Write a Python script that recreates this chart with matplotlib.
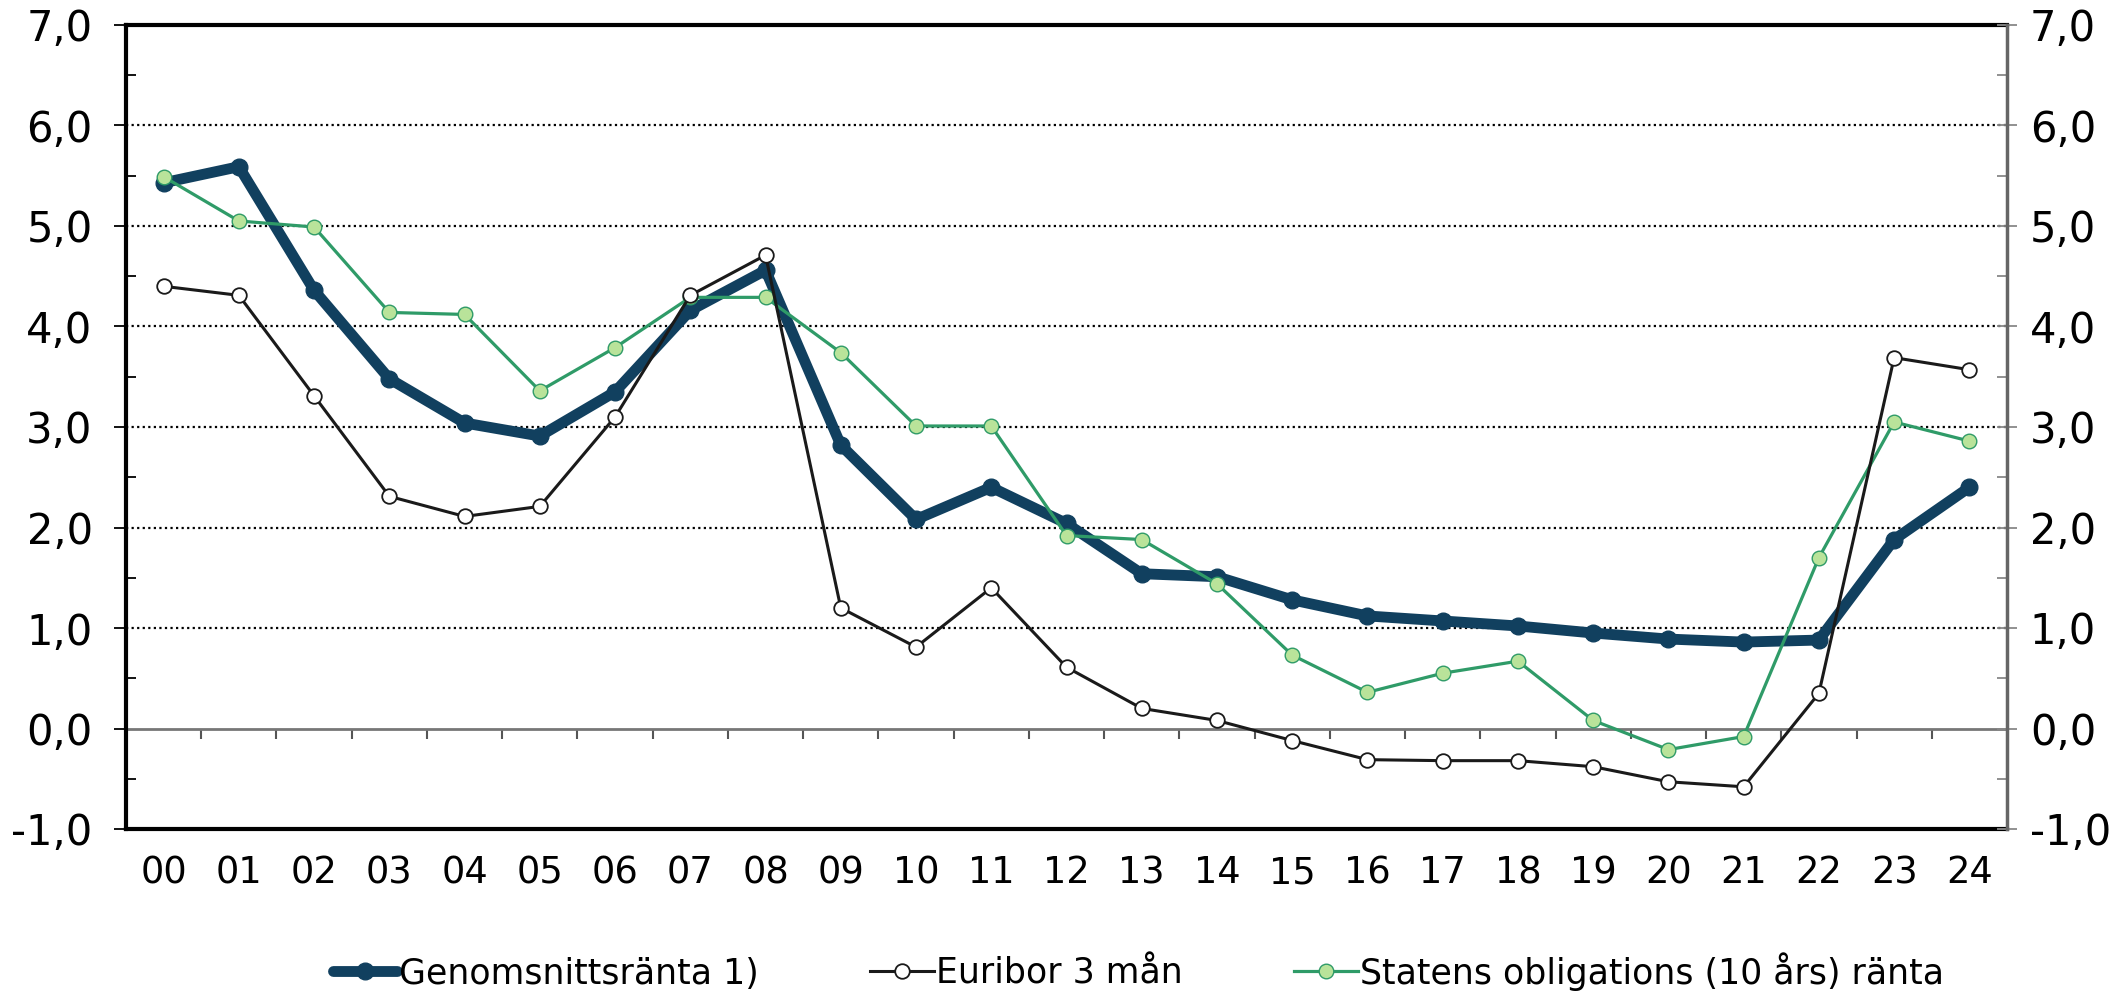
import matplotlib
matplotlib.use("Agg")
import matplotlib.pyplot as plt
from matplotlib.ticker import MultipleLocator, FuncFormatter

categories = ["00", "01", "02", "03", "04", "05", "06", "07", "08", "09", "10", "11", "12",
              "13", "14", "15", "16", "17", "18", "19", "20", "21", "22", "23", "24"]
genomsnitt = [5.43, 5.59, 4.36, 3.48, 3.04, 2.91, 3.35, 4.16, 4.56, 2.82, 2.08, 2.40, 2.04,
              1.54, 1.51, 1.28, 1.12, 1.07, 1.02, 0.95, 0.89, 0.86, 0.88, 1.88, 2.40]
euribor = [4.40, 4.31, 3.31, 2.31, 2.11, 2.21, 3.10, 4.31, 4.71, 1.20, 0.81, 1.40, 0.61,
           0.20, 0.08, -0.12, -0.31, -0.32, -0.32, -0.38, -0.53, -0.58, 0.35, 3.69, 3.57]
statens = [5.49, 5.05, 4.99, 4.14, 4.12, 3.36, 3.79, 4.29, 4.29, 3.74, 3.01, 3.01, 1.92,
           1.88, 1.44, 0.73, 0.36, 0.55, 0.67, 0.08, -0.21, -0.08, 1.70, 3.05, 2.86]
labels = ["Genomsnittsränta 1)", "Euribor 3 mån", "Statens obligations (10 års) ränta"]
y_min, y_max = -1, 7

plt.rcParams['font.family'] = ['DejaVu Sans']

W, H = 2126, 993
fig = plt.figure(figsize=(W / 100, H / 100), dpi=100)
L, R, T, B = 126, 2007, 25, 829
ax = fig.add_axes([L / W, 1 - B / H, (R - L) / W, (B - T) / H])

x = list(range(len(categories)))
navy = "#11405f"
gline = "#2f9b68"
gface = "#b9e39a"

l1, = ax.plot(x, genomsnitt, color=navy, lw=7.8, marker="o", ms=12,
              mfc=navy, mec=navy, zorder=3, solid_capstyle="round")
l3, = ax.plot(x, statens, color=gline, lw=2.3, marker="o", ms=10.5,
              mfc=gface, mec=gline, mew=1.0, zorder=4)
l2, = ax.plot(x, euribor, color="#1a1a1a", lw=2.2, marker="o", ms=10.5,
              mfc="white", mec="#1a1a1a", mew=1.3, zorder=5)

ax.set_xlim(-0.5, len(categories) - 0.5)
ax.set_ylim(y_min, y_max)

ax.yaxis.set_major_locator(MultipleLocator(1))
ax.yaxis.set_minor_locator(MultipleLocator(0.5))
for yv in range(y_min + 1, y_max):
    if yv != 0:
        ax.axhline(yv, color="black", linestyle=(0, (1, 1.5)), lw=1.6, zorder=1)

fmt = FuncFormatter(lambda v, p: f"{v:.1f}".replace(".", ","))
ax.yaxis.set_major_formatter(fmt)
ax.tick_params(axis="y", which="major", direction="out", length=9, width=1.3,
               labelsize=30, pad=15, color="black")
ax.tick_params(axis="y", which="minor", direction="in", length=7, width=1.3, color="black")

ax.set_xticks(x)
ax.set_xticklabels(categories)
ax.tick_params(axis="x", which="major", length=0, labelsize=26.5, pad=18)

for s in ["left", "top", "bottom"]:
    ax.spines[s].set_color("black")
    ax.spines[s].set_linewidth(3)
ax.spines["right"].set_visible(False)

sec = ax.secondary_xaxis((0 - y_min) / (y_max - y_min))
sec.set_xticks([i - 0.5 for i in range(1, len(categories))])
sec.tick_params(axis="x", direction="out", length=7.5, width=1.5, color="#555555",
                labelbottom=False, labelsize=1)
sec.spines["bottom"].set_color("#777777")
sec.spines["bottom"].set_linewidth(2)
sec.xaxis.set_ticklabels([])

ax2 = ax.twinx()
ax2.set_ylim(y_min, y_max)
ax2.yaxis.set_major_locator(MultipleLocator(1))
ax2.yaxis.set_minor_locator(MultipleLocator(0.5))
ax2.yaxis.set_major_formatter(fmt)
ax2.tick_params(axis="y", which="major", direction="inout", length=15, width=1.3,
                labelsize=30, pad=9, color="#888888")
ax2.tick_params(axis="y", which="minor", direction="in", length=7, width=1.3, color="#888888")
for s in ["left", "top", "bottom"]:
    ax2.spines[s].set_visible(False)
ax2.spines["right"].set_color("#666666")
ax2.spines["right"].set_linewidth(2.5)

fig.legend([l1, l2, l3], labels, loc="center", bbox_to_anchor=(0.5355, 0.022),
           ncol=3, frameon=False, fontsize=25, handlelength=1.85, handletextpad=0.05,
           columnspacing=3.2, borderaxespad=0)

fig.savefig("out.png", dpi=100)
